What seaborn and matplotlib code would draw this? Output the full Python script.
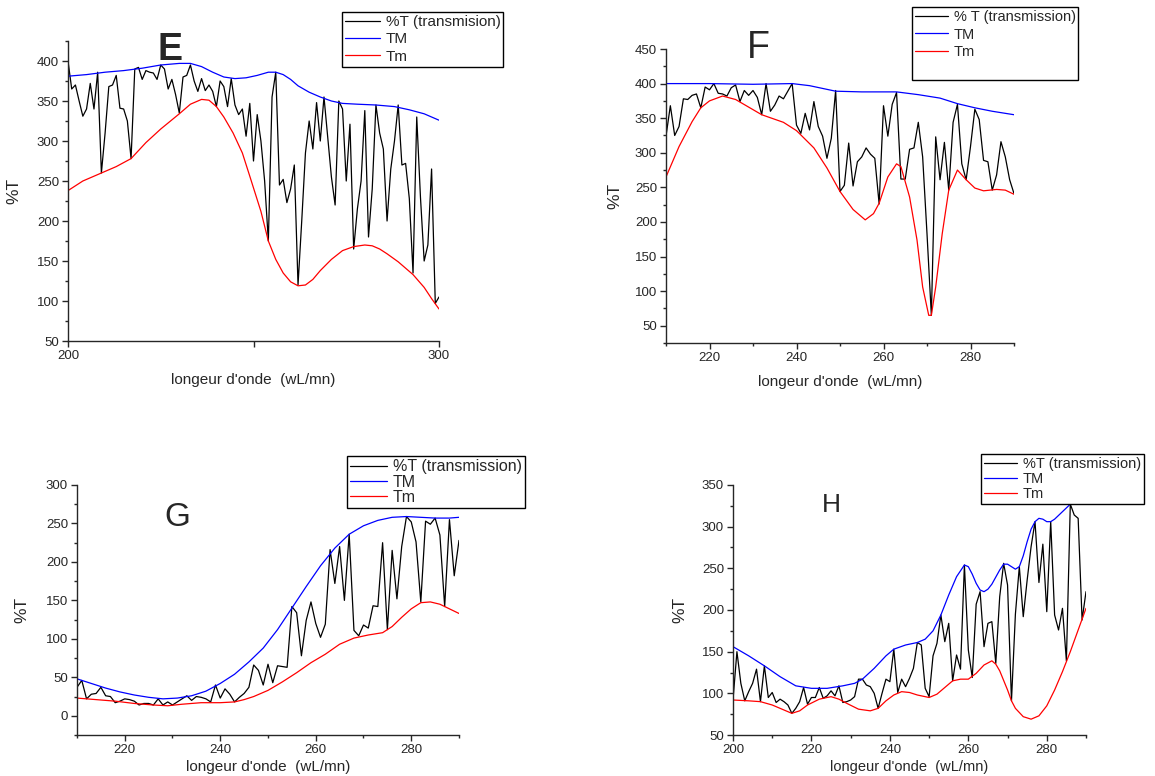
"""
plot.py

Transmission spectra (%T) with upper (TM) and lower (Tm) envelopes
for four samples E, F, G and H, laid out 2 x 2 as in the reference.
"""

import numpy as np
import pandas as pd
import matplotlib
matplotlib.use('Agg')
import matplotlib.pyplot as plt
import seaborn as sns
from matplotlib.ticker import MultipleLocator
from matplotlib.lines import Line2D

# ---------------------------------------------------------------- panel E
E_WL = list(range(200, 301))
E_T = [400, 365, 370, 350, 331, 340, 372, 340, 386, 260,
       310, 368, 370, 382, 341, 340, 325, 278, 390, 392,
       377, 388, 386, 385, 377, 395, 390, 365, 377, 358,
       335, 380, 382, 395, 375, 362, 378, 363, 370, 362,
       343, 375, 368, 343, 378, 345, 333, 340, 306, 347,
       275, 333, 300, 250, 175, 355, 386, 245, 252, 223,
       240, 270, 120, 200, 285, 325, 290, 348, 300, 355,
       305, 255, 220, 350, 340, 250, 321, 165, 215, 250,
       338, 180, 240, 345, 310, 290, 200, 265, 300, 345,
       270, 272, 228, 135, 330, 230, 150, 170, 265, 97, 105]
E_TM_WL = [200, 205, 210, 215, 220, 225, 230, 233, 236, 239, 242, 245, 248,
           251, 254, 256, 258, 260, 262, 265, 268, 271, 274, 278, 283, 288,
           292, 296, 300]
E_TM = [381, 383, 386, 388, 391, 395, 397, 397, 393, 386, 380, 378, 379,
        382, 386, 386, 383, 377, 369, 361, 355, 350, 347, 346, 345, 343,
        339, 334, 326]
E_TMIN_WL = [200, 204, 209, 213, 217, 221, 225, 230, 233, 236, 238, 240, 242,
             244.5, 247, 249, 252, 254, 256, 258, 260, 262, 264, 266, 268,
             271, 274, 277, 280, 282, 284, 286, 289, 291, 293, 296, 298, 300]
E_TMIN = [238, 250, 260, 268, 278, 298, 315, 334, 346, 352, 351, 343, 330,
          310, 285, 256, 212, 175, 152, 135, 124, 119, 120, 127, 138,
          152, 163, 168, 170, 169, 165, 159, 149, 141, 133, 117, 103, 90]

# ---------------------------------------------------------------- panel F
F_WL = list(range(210, 291))
F_T = [324, 368, 325, 338, 378, 377, 383, 385, 365, 395,
       391, 400, 386, 385, 382, 394, 398, 374, 390, 383,
       390, 380, 355, 400, 360, 369, 382, 378, 389, 400,
       340, 328, 357, 333, 374, 338, 324, 292, 321, 390,
       244, 253, 314, 252, 287, 294, 307, 298, 292, 226,
       368, 324, 370, 387, 262, 262, 305, 307, 344, 294,
       183, 65, 323, 261, 315, 246, 344, 370, 284, 261,
       309, 363, 348, 289, 287, 246, 268, 316, 294, 261, 241]
F_TM_WL = [210, 220, 230, 239, 243, 246, 249, 255, 263, 268, 273, 277,
           281, 285, 290]
F_TM = [400, 400, 399, 400, 397, 393, 389, 388, 388, 384, 379, 371,
        365, 360, 355]
F_TMIN_WL = [210, 213, 216, 218, 220, 223, 226, 229, 232, 237, 240, 244,
             247, 250, 253, 255.8, 257.7, 259, 261, 263, 264, 266, 267.7,
             269, 270.4, 271, 272, 273.5, 275, 277, 279, 281, 283, 286,
             288, 290]
F_TMIN = [265, 309, 345, 365, 375, 382, 377, 366, 355, 344, 332, 307,
          278, 244, 218, 203, 212, 227, 265, 284, 280, 236, 174,
          106, 65, 65, 106, 183, 246, 275, 261, 249, 245, 247,
          246, 240]

# ---------------------------------------------------------------- panel G
G_WL = list(range(210, 291))
G_T = [37, 46, 22, 28, 29, 37, 26, 25, 17, 19,
       22, 21, 19, 14, 16, 16, 14, 22, 14, 18,
       14, 18, 22, 26, 20, 25, 24, 22, 18, 40,
       23, 35, 28, 18, 24, 29, 37, 66, 59, 40,
       67, 43, 65, 64, 63, 142, 134, 78, 124, 148,
       120, 102, 119, 216, 172, 220, 150, 236, 111, 104,
       118, 114, 143, 142, 225, 112, 215, 152, 220, 259,
       252, 226, 148, 253, 249, 257, 235, 142, 255, 182, 228]
G_TM_WL = [210, 213, 216, 219, 222, 225, 228, 231, 234, 237, 240, 243, 246,
           249, 252, 255, 258, 261, 264, 267, 270, 273, 276, 279, 282, 285,
           288, 290]
G_TM = [48, 42, 36, 31, 27, 24, 22, 23, 26, 32, 42, 54, 70,
        88, 112, 140, 168, 195, 218, 236, 247, 254, 258, 259, 258, 257,
        257, 258]
G_TMIN_WL = [210, 214, 218, 222, 226, 229, 232, 236, 240, 243, 245, 247,
             250, 253, 256, 259, 262, 265, 268, 271, 274, 276, 278, 280,
             282, 284, 286, 288, 290]
G_TMIN = [23, 21, 19, 16, 14, 13, 15, 17, 17, 18, 21, 25,
          33, 44, 56, 69, 80, 93, 101, 105, 108, 116, 128, 139,
          147, 148, 145, 139, 133]

# ---------------------------------------------------------------- panel H
H_WL = list(range(200, 291))
H_T = [92, 150, 112, 91, 102, 112, 129, 90, 133, 95,
       101, 89, 93, 90, 86, 76, 82, 90, 107, 87,
       95, 95, 107, 94, 97, 103, 97, 109, 89, 90,
       92, 96, 117, 117, 110, 108, 100, 82, 100, 117,
       114, 153, 101, 117, 108, 118, 130, 161, 158, 106,
       96, 145, 160, 194, 162, 184, 115, 146, 129, 254,
       152, 119, 207, 222, 156, 184, 186, 136, 216, 256,
       230, 91, 195, 252, 192, 236, 276, 306, 233, 279,
       198, 306, 194, 176, 202, 139, 327, 314, 310, 188, 222]
H_TM_WL = [200, 204, 208, 212, 216, 220, 224, 228, 231, 233, 236, 239, 241,
           244, 247, 249, 251, 253, 255, 257, 259, 260, 261, 262, 263, 264,
           265, 266, 268, 269, 270, 271, 272, 273, 274, 275, 276, 277, 278,
           279, 280, 281, 282, 284, 286]
H_TM = [156, 145, 133, 120, 109, 106, 106, 109, 112, 117, 130, 145, 153,
        158, 161, 165, 175, 194, 218, 240, 254, 252, 243, 232, 224, 222,
        225, 231, 248, 255, 255, 252, 249, 252, 265, 282, 297, 306, 310,
        309, 306, 306, 309, 318, 327]
H_TMIN_WL = [200, 204, 207, 210, 213, 215, 217, 219, 222, 225, 227, 229,
             232, 235, 237, 239, 241, 243, 245, 247, 250, 252, 254, 256,
             258, 260, 262, 264, 266, 267, 268, 270, 271, 272, 274, 276,
             278, 280, 282, 284, 286, 288, 290]
H_TMIN = [92, 91, 90, 86, 80, 76, 79, 86, 93, 96, 93, 88,
          81, 79, 82, 91, 98, 102, 101, 98, 95, 99, 107, 115,
          117, 117, 124, 134, 139, 135, 127, 104, 91, 82, 72, 69,
          73, 85, 104, 126, 150, 176, 202]

W, H = 1155, 776
XLABEL = "longeur d'onde  (wL/mn)"

sns.set_style('ticks')
plt.rcParams['font.family'] = ['Liberation Sans', 'DejaVu Sans']
plt.rcParams['axes.linewidth'] = 1.0
for k in ('xtick.major.width', 'ytick.major.width',
          'xtick.minor.width', 'ytick.minor.width'):
    plt.rcParams[k] = 1.0


def px_box(left, top, right, bottom):
    """Axes rectangle from pixel corners of the reference picture."""
    return [left / W, 1 - bottom / H, (right - left) / W, (bottom - top) / H]


def draw_panel(fig, box, wl, t, tm_wl, tm, tmin_wl, tmin, t_label,
               xlim, ylim, xmajor, xminor, legend_xy, letter, letter_xy,
               letter_size, letter_weight, leg_size=11, leg_spacing=0.2,
               ypad=11, xpad=8, xsize=11, blank_row=False):
    ax = fig.add_axes(px_box(*box))
    sns.lineplot(x=wl, y=t, ax=ax, color='black', lw=0.9,
                 errorbar=None, label=t_label)
    sns.lineplot(x=tm_wl, y=tm, ax=ax, color='blue', lw=0.9,
                 errorbar=None, label='TM')
    sns.lineplot(x=tmin_wl, y=tmin, ax=ax, color='red', lw=0.9,
                 errorbar=None, label='Tm')

    ax.set_xlim(*xlim)
    ax.set_ylim(*ylim)
    ax.xaxis.set_major_locator(MultipleLocator(xmajor))
    if xminor:
        ax.xaxis.set_minor_locator(MultipleLocator(xminor))
    ax.yaxis.set_major_locator(MultipleLocator(50))
    ax.yaxis.set_minor_locator(MultipleLocator(25))
    ax.tick_params(which='major', direction='out', length=4.5,
                   labelsize=9.5, pad=2)
    ax.tick_params(which='minor', direction='out', length=2.5)
    sns.despine(ax=ax)

    ax.set_xlabel(XLABEL, fontsize=xsize, labelpad=xpad)
    ax.set_ylabel('%T', fontsize=12.5, labelpad=ypad)

    handles, labels = ax.get_legend_handles_labels()
    if blank_row:
        handles.append(Line2D([], [], color='none'))
        labels.append('')
    ax.legend(handles, labels, loc='upper left',
              bbox_to_anchor=(legend_xy[0] / W, 1 - legend_xy[1] / H),
              bbox_transform=fig.transFigure, borderaxespad=0,
              frameon=True, fancybox=False, edgecolor='black',
              framealpha=1, fontsize=leg_size, handlelength=2.3,
              handletextpad=0.35, labelspacing=leg_spacing, borderpad=0.2)
    ax.get_legend().get_frame().set_linewidth(1.0)

    fig.text(letter_xy[0] / W, 1 - letter_xy[1] / H, letter,
             fontsize=letter_size, fontweight=letter_weight,
             ha='center', va='center')
    return ax


fig = plt.figure(figsize=(W / 100, H / 100), dpi=100)

ax_e = draw_panel(fig, (68, 41, 439, 341), E_WL, E_T, E_TM_WL, E_TM,
                  E_TMIN_WL, E_TMIN, '%T (transmision)',
                  (200, 300), (50, 425), 50, None, (342, 12),
                  'E', (170, 50), 27, 'bold',
                  leg_size=11, leg_spacing=0.22, ypad=11, xpad=8)
ax_e.set_xticks([200, 250, 300])
ax_e.set_xticklabels(['200', '', '300'])

draw_panel(fig, (666, 49, 1014, 343), F_WL, F_T, F_TM_WL, F_TM,
           F_TMIN_WL, F_TMIN, '% T (transmission)',
           (210, 290), (25, 450), 20, 10, (912, 7),
           'F', (758, 48), 27, 'normal',
           leg_size=10.5, leg_spacing=0.25, ypad=9, xpad=8,
           blank_row=True)

draw_panel(fig, (77, 485, 459, 735), G_WL, G_T, G_TM_WL, G_TM,
           G_TMIN_WL, G_TMIN, '%T (transmission)',
           (210, 290), (-25, 300), 20, 10, (347, 456),
           'G', (177, 518), 24, 'normal',
           leg_size=11.5, leg_spacing=0.02, ypad=11.5, xpad=3)

draw_panel(fig, (733, 485, 1086, 735), H_WL, H_T, H_TM_WL, H_TM,
           H_TMIN_WL, H_TMIN, '%T (transmission)',
           (200, 290), (50, 350), 20, 10, (981, 454),
           'H', (831, 505), 19, 'normal',
           leg_size=10.5, leg_spacing=0.08, ypad=10, xpad=3, xsize=10.5)

fig.savefig('out.png', dpi=100)
